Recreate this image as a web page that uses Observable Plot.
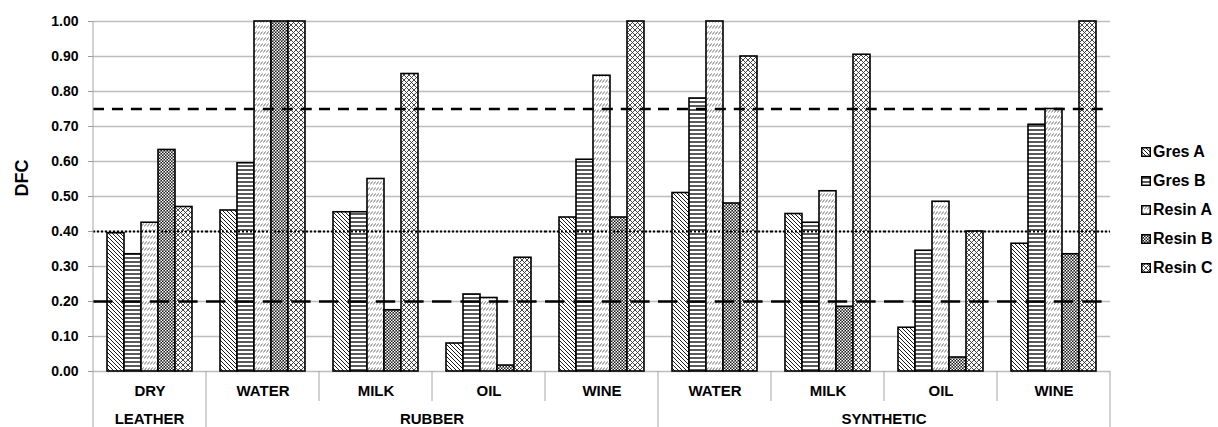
<!DOCTYPE html>
<html><head><meta charset="utf-8">
<script src="https://cdn.jsdelivr.net/npm/d3@7"></script>
<script src="https://cdn.jsdelivr.net/npm/@observablehq/plot@0.6"></script>
<style>
body{margin:0;background:#fff;font-family:'Liberation Sans',Arial,sans-serif;}
#wrap{position:relative;width:1218px;height:427px;}
#legend{position:absolute;left:1141px;top:137px;}
.item{display:flex;align-items:center;height:29px;font-weight:bold;font-size:16px;color:#000;white-space:nowrap;}
.item svg{margin-right:2px;}
</style></head><body>
<svg width="0" height="0" style="position:absolute">
<defs>
 <pattern id="pGresA" patternUnits="userSpaceOnUse" width="4" height="4">
   <rect width="4" height="4" fill="#fff"/>
   <path d="M-1,-1L5,5M-1,3L1,5M3,-1L5,1" stroke="#000" stroke-width="0.9" fill="none"/>
 </pattern>
 <pattern id="pGresB" patternUnits="userSpaceOnUse" width="4" height="4">
   <rect width="4" height="4" fill="#fff"/>
   <path d="M0,2L4,2" stroke="#222" stroke-width="1.5" fill="none"/>
 </pattern>
 <pattern id="pResinA" patternUnits="userSpaceOnUse" width="3" height="6">
   <rect width="3" height="6" fill="#fff"/>
   <path d="M0.2,4.6L2.8,1.4" stroke="#444" stroke-width="0.8" fill="none"/>
 </pattern>
 <pattern id="pResinB" patternUnits="userSpaceOnUse" width="3" height="3">
   <rect width="3" height="3" fill="#1a1a1a"/>
   <rect x="0" y="0" width="1.5" height="1.5" fill="#fff"/>
   <rect x="1.5" y="1.5" width="1.5" height="1.5" fill="#fff"/>
 </pattern>
 <pattern id="pResinC" patternUnits="userSpaceOnUse" width="5" height="5">
   <rect width="5" height="5" fill="#fff"/>
   <path d="M-1,-1L6,6M6,-1L-1,6" stroke="#333" stroke-width="0.9" fill="none"/>
 </pattern>
</defs></svg>
<div id="wrap"><div id="legend"></div></div>
<script>
// ---- data ----
const mainCategories = ["LEATHER","RUBBER","RUBBER","RUBBER","RUBBER","SYNTHETIC","SYNTHETIC","SYNTHETIC","SYNTHETIC"];
const subCategories = ["DRY","WATER","MILK","OIL","WINE","WATER","MILK","OIL","WINE"];
const series = ["Gres A","Gres B","Resin A","Resin B","Resin C"];
const gresA  = [0.395, 0.46, 0.455, 0.08, 0.44, 0.51, 0.45, 0.125, 0.365];
const gresB  = [0.335, 0.595, 0.455, 0.22, 0.605, 0.78, 0.425, 0.345, 0.705];
const resinA = [0.425, 1.00, 0.55, 0.21, 0.845, 1.00, 0.515, 0.485, 0.75];
const resinB = [0.633, 1.00, 0.175, 0.017, 0.44, 0.48, 0.185, 0.04, 0.335];
const resinC = [0.47, 1.00, 0.85, 0.325, 1.00, 0.90, 0.905, 0.40, 1.00];
const yTicks = [0, 0.1, 0.2, 0.3, 0.4, 0.5, 0.6, 0.7, 0.8, 0.9, 1.0];
const thresholds = [0.75, 0.40, 0.20];
const yLabel = "DFC";

const patterns = ["url(#pGresA)","url(#pGresB)","url(#pResinA)","url(#pResinB)","url(#pResinC)"];
const valuesBySeries = [gresA, gresB, resinA, resinB, resinC];
const rows = subCategories.flatMap((sub, i) =>
  series.map((s, j) => ({group: i, series: s, value: valuesBySeries[j][i]})));

const font = "'Liberation Sans', Arial, sans-serif";

const plot = Plot.plot({
  width: 1218, height: 427,
  marginLeft: 90, marginRight: 105, marginTop: 21, marginBottom: 56,
  style: {fontFamily: font, background: "white", overflow: "visible"},
  fx: {domain: d3.range(subCategories.length), padding: 0},
  x: {domain: series, paddingInner: 0, paddingOuter: 0.74, axis: null},
  y: {domain: [0, 1]},
  color: {domain: series, range: patterns},
  marks: [
    Plot.gridY(yTicks, {stroke: "#bdbdbd", strokeOpacity: 1, strokeWidth: 1.5}),
    Plot.barY(rows, {fx: "group", x: "series", y: "value", fill: "series", stroke: "black", strokeWidth: 1.6}),
    Plot.ruleY([thresholds[0]], {stroke: "black", strokeWidth: 2.5, strokeDasharray: "11,7.95"}),
    Plot.ruleY([thresholds[1]], {stroke: "black", strokeWidth: 2, strokeDasharray: "2,2"}),
    Plot.ruleY([thresholds[2]], {stroke: "black", strokeWidth: 2.5, strokeDasharray: "19.4,9"}),
    Plot.axisY(yTicks, {tickFormat: d3.format(".2f"), tickSize: 5, tickPadding: 10, stroke: "#999", fill: "black", fontSize: 14, fontWeight: "bold", label: null}),
    Plot.axisFx({anchor: "bottom", tickFormat: i => subCategories[i], tickSize: 0, tickPadding: 14, fontSize: 15, fontWeight: "bold", label: null}),
    Plot.text([yLabel], {fx: () => 0, frameAnchor: "left", rotate: -90, dx: -71, fontSize: 18, fontWeight: "bold", fill: "black"})
  ]
});
document.getElementById("wrap").prepend(plot);

// ---- category separators and main group labels, placed with Plot's fx scale ----
const fxs = plot.scale("fx");
const ys = plot.scale("y");
const bandLeft = fxs.apply ? (i => fxs.apply(i)) :
  d3.scaleBand(fxs.domain, fxs.range).paddingInner(fxs.paddingInner ?? 0).paddingOuter(fxs.paddingOuter ?? 0).align(fxs.align ?? 0.5);
const bw = fxs.bandwidth;
const y0 = ys.apply ? ys.apply(0) : 371;
const y1 = ys.apply ? ys.apply(1) : 21;
const svg = d3.select(plot);
const g = svg.append("g").attr("stroke", "#a6a6a6").attr("stroke-width", 1);
const H = 427;
// y axis line
g.append("line").attr("x1", bandLeft(0)).attr("x2", bandLeft(0)).attr("y1", y1).attr("y2", H);
for (let i = 1; i <= subCategories.length; i++) {
  const x = i < subCategories.length ? bandLeft(i) : bandLeft(i - 1) + bw;
  const major = i === subCategories.length || mainCategories[i] !== mainCategories[i - 1];
  g.append("line").attr("x1", x).attr("x2", x).attr("y1", y0).attr("y2", major ? H : y0 + 30);
}
const mains = [];
mainCategories.forEach((m, i) => {
  const last = mains[mains.length - 1];
  if (last && last.name === m) last.end = i; else mains.push({name: m, start: i, end: i});
});
svg.append("g").attr("font-family", font).attr("font-size", 15).attr("font-weight", "bold").attr("text-anchor", "middle")
  .selectAll("text").data(mains).join("text")
  .attr("x", d => (bandLeft(d.start) + bandLeft(d.end) + bw) / 2)
  .attr("y", y0 + 53)
  .text(d => d.name);

// ---- legend ----
const legend = d3.select("#legend");
series.forEach((s, j) => {
  const item = legend.append("div").attr("class", "item");
  const sw = item.append("svg").attr("width", 10).attr("height", 10);
  sw.append("rect").attr("x", 0.75).attr("y", 0.75).attr("width", 8.5).attr("height", 8.5)
    .attr("fill", patterns[j]).attr("stroke", "black").attr("stroke-width", 1.5);
  item.append("span").text(s);
});
</script>
</body></html>
